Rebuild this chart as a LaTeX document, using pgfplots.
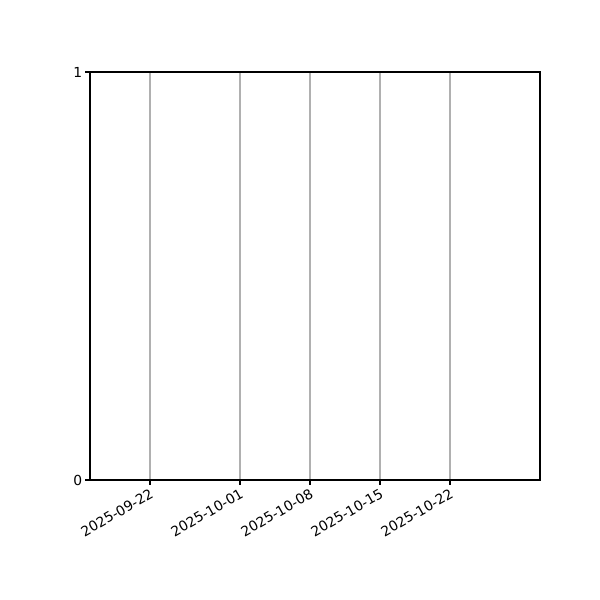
\documentclass[border=0pt]{standalone}
\usepackage{fontspec}
\setmainfont{DejaVu Sans}
\usepackage{pgfplots}
\pgfplotsset{compat=1.18}
\definecolor{gridgray}{HTML}{B0B0B0}
\begin{document}
\begin{tikzpicture}[x=1pt,y=1pt]
\useasboundingbox (-65.04,-86.72) rectangle (368.58,346.90);
\begin{axis}[
  at={(0,0)}, anchor=south west,
  scale only axis,
  width=325.2pt, height=294.86pt,
  xmin=-6, xmax=39,
  ymin=0, ymax=1,
  xtick={0,9,16,23,30},
  xticklabels={2025-09-22,2025-10-01,2025-10-08,2025-10-15,2025-10-22},
  ytick={0,1},
  yticklabels={0,1},
  xmajorgrids,
  grid style={gridgray, line width=0.8pt},
  tick align=outside,
  tick pos=left,
  major tick length=3.5pt,
  tick style={black, line width=0.8pt},
  axis line style={black, line width=0.8pt},
  ticklabel style={font=\fontsize{10}{12}\selectfont},
  x tick label style={rotate=30, anchor=north east, inner sep=1.5pt},
  y tick label style={inner sep=2pt},
  /pgf/number format/assume math mode=true,
]
\addplot[draw=none, forget plot] coordinates {(-6,0)};
\end{axis}
\end{tikzpicture}
\end{document}
